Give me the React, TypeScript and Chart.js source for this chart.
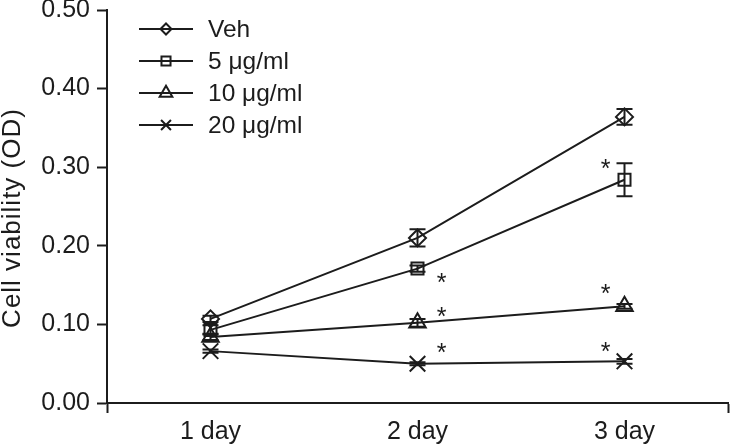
import React, { useEffect, useRef } from 'react';
import { Chart, registerables } from 'chart.js';

Chart.register(...registerables);

// ---- data ----
const days = [1, 2, 3];
const dayLabels = ['1 day', '2 day', '3 day'];
const seriesNames = ['Veh', '5 \u03bcg/ml', '10 \u03bcg/ml', '20 \u03bcg/ml'];
const vehMeans = [0.107, 0.21, 0.364];
const vehErr = [0.004, 0.011, 0.01];
const ug5Means = [0.093, 0.171, 0.284];
const ug5Err = [0.006, 0.004, 0.021];
const ug10Means = [0.084, 0.102, 0.123];
const ug10Err = [0.004, 0.005, 0.003];
const ug20Means = [0.066, 0.05, 0.053];
const ug20Err = [0.002, 0.002, 0.003];
const vehSig = [false, false, false];
const ug5Sig = [false, true, true];
const ug10Sig = [false, true, true];
const ug20Sig = [false, true, true];
const yTicks = [0, 0.1, 0.2, 0.3, 0.4, 0.5];
const yTitle = 'Cell viability (OD)';

const INK = '#1c1c1c';
const FONT = "'Liberation Sans', Arial, Helvetica, sans-serif";
const styles = ['rectRot', 'rect', 'triangle', 'crossRot'];
const radii = [8.5, 8.5, 9.5, 11];
const legendRadii = [5.5, 6.4, 7.3, 7];
const means = [vehMeans, ug5Means, ug10Means, ug20Means];
const errs = [vehErr, ug5Err, ug10Err, ug20Err];
const sigs = [vehSig, ug5Sig, ug10Sig, ug20Sig];

// asterisk pixel offsets (style) relative to point, per series / day
const starDx = [0, 24, -19];
const starDy = [
  [0, 0, 0],
  [0, 8, -17],
  [0, -12, -18],
  [0, -17, -15],
];

function drawMarker(ctx: CanvasRenderingContext2D, style: string, x: number, y: number, r: number) {
  ctx.beginPath();
  if (style === 'rectRot') {
    ctx.moveTo(x - r, y);
    ctx.lineTo(x, y - r);
    ctx.lineTo(x + r, y);
    ctx.lineTo(x, y + r);
    ctx.closePath();
  } else if (style === 'rect') {
    const s = r * Math.SQRT1_2;
    ctx.rect(x - s, y - s, 2 * s, 2 * s);
  } else if (style === 'triangle') {
    for (let i = 0; i < 3; i++) {
      const a = (i * 2 * Math.PI) / 3;
      const px = x + Math.sin(a) * r;
      const py = y - Math.cos(a) * r;
      if (i === 0) ctx.moveTo(px, py);
      else ctx.lineTo(px, py);
    }
    ctx.closePath();
  } else if (style === 'crossRot') {
    const o = r * Math.SQRT1_2;
    ctx.moveTo(x - o, y - o);
    ctx.lineTo(x + o, y + o);
    ctx.moveTo(x - o, y + o);
    ctx.lineTo(x + o, y - o);
  }
  ctx.stroke();
}

const extrasPlugin = {
  id: 'extras',
  afterDatasetsDraw(chart: any) {
    const ctx: CanvasRenderingContext2D = chart.ctx;
    const xs = chart.scales.x;
    const ys = chart.scales.y;
    ctx.save();
    ctx.strokeStyle = INK;
    ctx.fillStyle = INK;
    ctx.lineWidth = 2;
    // error bars
    means.forEach((m, si) => {
      m.forEach((v, di) => {
        const e = errs[si][di];
        const px = xs.getPixelForValue(days[di]);
        const top = ys.getPixelForValue(v + e);
        const bot = ys.getPixelForValue(v - e);
        const cap = 8;
        ctx.beginPath();
        ctx.moveTo(px, top);
        ctx.lineTo(px, bot);
        ctx.moveTo(px - cap, top);
        ctx.lineTo(px + cap, top);
        ctx.moveTo(px - cap, bot);
        ctx.lineTo(px + cap, bot);
        ctx.stroke();
      });
    });
    // significance asterisks
    ctx.font = `25px ${FONT}`;
    ctx.textAlign = 'center';
    ctx.textBaseline = 'alphabetic';
    sigs.forEach((s, si) => {
      s.forEach((flag, di) => {
        if (!flag) return;
        const px = xs.getPixelForValue(days[di]) + starDx[di];
        const py = ys.getPixelForValue(means[si][di]) + starDy[si][di];
        ctx.fillText('*', px, py + 14);
      });
    });
    // legend
    const lx0 = 139;
    const lx1 = 193;
    const ly0 = 29;
    const lstep = 32;
    ctx.font = `24.5px ${FONT}`;
    ctx.textAlign = 'left';
    ctx.textBaseline = 'middle';
    seriesNames.forEach((name, i) => {
      const y = ly0 + i * lstep;
      ctx.lineWidth = 2;
      ctx.beginPath();
      ctx.moveTo(lx0, y);
      ctx.lineTo(lx1, y);
      ctx.stroke();
      drawMarker(ctx, styles[i], (lx0 + lx1) / 2, y, legendRadii[i]);
      ctx.fillText(name, 208, y + 1.5);
    });
    // y-axis title
    ctx.save();
    ctx.translate(13, 218);
    ctx.rotate(-Math.PI / 2);
    ctx.font = `26px ${FONT}`;
    (ctx as any).letterSpacing = '1px';
    ctx.textAlign = 'center';
    ctx.textBaseline = 'middle';
    ctx.fillText(yTitle, 0, 0);
    ctx.restore();
    ctx.restore();
  },
};

export default function App() {
  const ref = useRef<HTMLCanvasElement | null>(null);
  useEffect(() => {
    document.body.style.margin = '0';
    const canvas = ref.current;
    if (!canvas) return;
    const datasets = seriesNames.map((name, i) => ({
      label: name,
      data: days.map((d, j) => ({ x: d, y: means[i][j] })),
      borderColor: INK,
      borderWidth: 2,
      backgroundColor: 'rgba(0,0,0,0)',
      pointStyle: styles[i] as any,
      pointRadius: radii[i],
      pointBorderWidth: 2,
      pointBorderColor: INK,
      pointBackgroundColor: 'rgba(0,0,0,0)',
      tension: 0,
      fill: false,
    }));
    const chart = new Chart(canvas, {
      type: 'line',
      data: { datasets },
      plugins: [extrasPlugin],
      options: {
        animation: false,
        responsive: false,
        devicePixelRatio: 1,
        layout: { autoPadding: false, padding: { top: 10, right: 2, bottom: 0, left: 0 } },
        plugins: { legend: { display: false }, tooltip: { enabled: false }, title: { display: false } },
        scales: {
          x: {
            type: 'linear',
            min: 0.5,
            max: 3.5,
            afterBuildTicks: (scale: any) => {
              scale.ticks = [0.5, ...days, 3.5].map((v) => ({ value: v }));
            },
            afterFit: (scale: any) => {
              scale.height = 43;
              scale.paddingLeft = 0;
              scale.paddingRight = 0;
            },
            ticks: {
              autoSkip: false,
              maxRotation: 0,
              padding: 4,
              color: INK,
              font: { family: FONT, size: 25 },
              callback: (v: any) => {
                const i = days.indexOf(Number(v));
                return i >= 0 ? dayLabels[i] : '';
              },
            },
            grid: {
              drawOnChartArea: false,
              drawTicks: true,
              tickLength: 10,
              tickWidth: 2,
              tickColor: (c: any) => (c.tick && days.indexOf(c.tick.value) >= 0 ? 'rgba(0,0,0,0)' : INK),
            },
            border: { display: true, color: INK, width: 2 },
          },
          y: {
            type: 'linear',
            min: 0,
            max: 0.5,
            afterBuildTicks: (scale: any) => {
              scale.ticks = yTicks.map((v) => ({ value: v }));
            },
            afterFit: (scale: any) => {
              scale.width = 107;
              scale.paddingTop = 0;
              scale.paddingBottom = 0;
            },
            ticks: {
              padding: 7,
              color: INK,
              font: { family: FONT, size: 25 },
              callback: (v: any) => Number(v).toFixed(2),
            },
            grid: {
              drawOnChartArea: false,
              drawTicks: true,
              tickLength: 10,
              tickWidth: 2,
              tickColor: INK,
            },
            border: { display: true, color: INK, width: 2 },
          },
        },
      },
    });
    return () => chart.destroy();
  }, []);
  return (
    <div style={{ width: 730, height: 446, background: '#fff' }}>
      <canvas ref={ref} width={730} height={446} style={{ display: 'block' }} />
    </div>
  );
}
